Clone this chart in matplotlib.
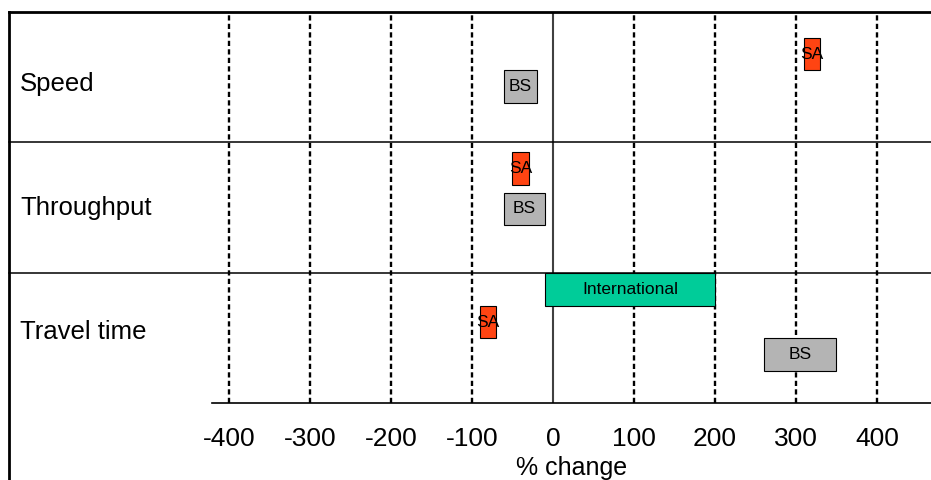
import matplotlib
matplotlib.use("Agg")
import matplotlib.pyplot as plt
from matplotlib.transforms import blended_transform_factory
from matplotlib.lines import Line2D

plt.rcParams['font.family'] = ['Liberation Sans', 'DejaVu Sans']

# ---- data ----
categories = ["Speed", "Throughput", "Travel time"]
bar_labels = ["SA", "BS", "SA", "BS", "International", "SA", "BS"]
bar_rows = ["Speed", "Speed", "Throughput", "Throughput", "Travel time", "Travel time", "Travel time"]
bar_start = [310, -60, -50, -60, -10, -90, 260]
bar_end = [330, -20, -30, -10, 200, -70, 350]
tick_values = [-400, -300, -200, -100, 0, 100, 200, 300, 400]
tick_labels = ["-400", "-300", "-200", "-100", "0", "100", "200", "300", "400"]
x_label = "% change"

# ---- layout / style ----
row_base = {"Speed": 2.0, "Throughput": 1.0, "Travel time": 0.0}
bar_offset = [0.677, 0.43, 0.80, 0.49, 0.87, 0.62, 0.37]
bar_height = 0.25
colors = {"SA": "#FF4412", "BS": "#B4B4B4", "International": "#00CC99"}
label_offset = {"Speed": 0.448, "Throughput": 0.497, "Travel time": 0.545}

fig = plt.figure(figsize=(9.31, 4.80), dpi=100)
W, H = 931, 480
ax = fig.add_axes([212 / W, (480 - 403) / H, (931 - 212) / W, (403 - 12) / H])
ax.set_xlim(-421, 466.7)
ax.set_ylim(0, 3)

for s in ["top", "right", "left"]:
    ax.spines[s].set_visible(False)
ax.spines["bottom"].set_linewidth(1.2)
ax.set_yticks([])
ax.set_xticks(tick_values)
ax.set_xticklabels(tick_labels, fontsize=19)
ax.tick_params(axis="x", length=0, pad=17)
ax.set_xlabel(x_label, fontsize=18, labelpad=4)

# gridlines
for v in tick_values:
    if v == 0:
        ax.axvline(v, color="#404040", lw=1.5, zorder=1)
    else:
        ax.axvline(v, color="black", lw=1.7, ls=(0, (2.2, 1.4)), zorder=1)

# row separators across the whole frame
tr = blended_transform_factory(fig.transFigure, ax.transData)
for yb in [1.0, 2.0]:
    ax.plot([9 / W, 1.0], [yb, yb], transform=tr, color="black", lw=1.1,
            clip_on=False, zorder=2)

# frame (top and left border)
fig.add_artist(Line2D([9 / W, 1.0], [1 - 12 / H, 1 - 12 / H], transform=fig.transFigure,
                      color="black", lw=2.0))
fig.add_artist(Line2D([9 / W, 9 / W], [0, 1 - 12 / H], transform=fig.transFigure,
                      color="black", lw=2.0))

# row labels
for cat in categories:
    t = fig.text(20 / W, 0, cat, transform=tr, fontsize=18.5, va="center", ha="left")
    t.set_position((20 / W, row_base[cat] + label_offset[cat]))

# bars
for lab, row, x0, x1, off in zip(bar_labels, bar_rows, bar_start, bar_end, bar_offset):
    yc = row_base[row] + off
    ax.barh(yc, x1 - x0, left=x0, height=bar_height, color=colors[lab],
            edgecolor="black", linewidth=0.8, zorder=3)
    ax.text((x0 + x1) / 2, yc, lab, ha="center", va="center", fontsize=12.5, zorder=4)

fig.savefig("out.png", dpi=100)
